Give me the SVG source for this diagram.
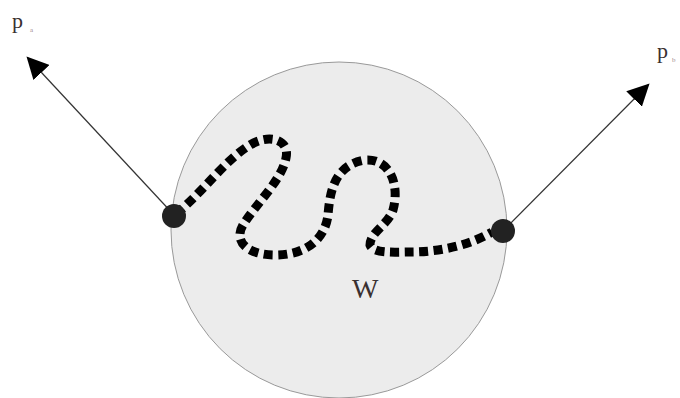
<svg xmlns="http://www.w3.org/2000/svg" width="680" height="398" viewBox="0 0 680 398">
<style>
.lbl{font-family:"Liberation Serif","DejaVu Serif",serif;fill:#3a3030}
.sub{font-family:"Liberation Serif","DejaVu Serif",serif;fill:#a08890;font-size:7px}
.arr{stroke:#333;stroke-width:1.2;fill:none}
.dot{fill:#222}
</style>
<defs>
<marker id="ah" viewBox="0 0 10 10" refX="9" refY="5" markerWidth="22" markerHeight="22" markerUnits="userSpaceOnUse" orient="auto">
<path d="M0,0 L10,5 L0,10 Z" fill="#000"/>
</marker>
</defs>
<rect width="680" height="398" fill="#fff"/>
<g id="region">
<circle cx="339" cy="230" r="168" fill="#ececec" stroke="#999" stroke-width="1"/>
</g>
<g id="connectors">
<line class="arr" x1="174" y1="215" x2="28" y2="58" marker-end="url(#ah)"/>
<line class="arr" x1="503" y1="231" x2="648" y2="85" marker-end="url(#ah)"/>
<path d="M176,214 C205,190 225,160 250,145 C270,133 290,140 286,158 C282,180 255,205 243,225 C233,242 248,255 275,255 C305,255 325,240 328,215 C330,190 335,165 365,160 C390,158 400,185 393,210 C388,225 370,232 370,245 C373,254 395,252 410,252 C440,252 470,245 492,232" fill="none" stroke="#000" stroke-width="9" stroke-dasharray="9 5.5"/>
</g>
<g id="endpoint-a"><circle class="dot" cx="174" cy="216" r="12"/></g>
<g id="endpoint-b"><circle class="dot" cx="503" cy="231" r="12"/></g>
<g id="label-pa"><text class="lbl" x="12" y="28" font-size="22">p</text><text class="sub" x="30" y="32">a</text></g>
<g id="label-pb"><text class="lbl" x="657" y="58" font-size="22">p</text><text class="sub" x="672" y="62">b</text></g>
<g id="label-w"><text class="lbl" x="352" y="298" font-size="28">W</text></g>
</svg>
